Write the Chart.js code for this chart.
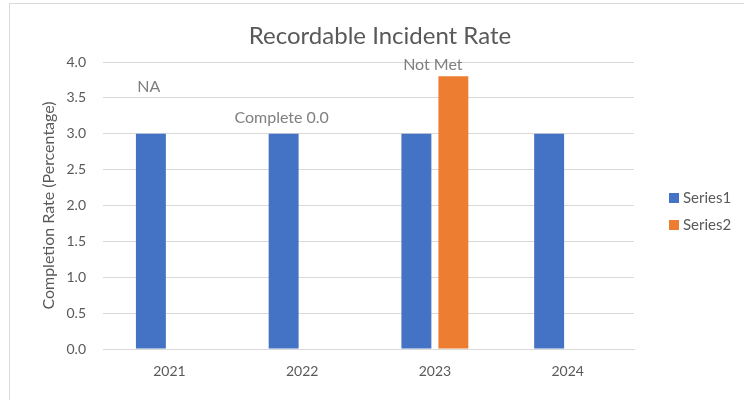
<!DOCTYPE html>
<html>
<head>
<meta charset="utf-8">
<script src="https://cdn.jsdelivr.net/npm/chart.js@4"></script>
<style>
    html, body { margin: 0; padding: 0; background: #fff; }
    #wrap { position: relative; width: 744px; height: 400px; overflow: hidden; }
    #frame { position: absolute; left: 9px; top: 3px; width: 760px; height: 420px; border: 1px solid #d9d9d9; box-sizing: border-box; }
    canvas { position: absolute; left: 0; top: 0; }
</style>
</head>
<body>
<div id="wrap">
    <div id="frame"></div>
    <canvas id="barChart" width="744" height="400"></canvas>
</div>
<script>
// ===============================
// Data
// ===============================
const years = ['2021', '2022', '2023', '2024'];
const series1 = [3, 3, 3, 3];
const series2 = [0, 0, 3.8, 0];
const seriesNames = ['Series1', 'Series2'];
const noteText = ['NA', 'Complete 0.0', 'Not Met', ''];
const noteValue = [3.65, 3.22, 3.96, null];
const chartTitle = 'Recordable Incident Rate';

const FONT = 'Lato, "Open Sans", sans-serif';
const TEXT = '#595959';
const COLORS = ['#4472C4', '#ED7D31'];

// ===============================
// Plugins
// ===============================
// title centred on the whole chart box, not only the plot
const boxTitle = {
    id: 'boxTitle',
    afterDraw(chart) {
        const ctx = chart.ctx;
        ctx.save();
        ctx.font = '24px ' + FONT;
        ctx.fillStyle = TEXT;
        ctx.textAlign = 'center';
        ctx.textBaseline = 'middle';
        ctx.fillText(chartTitle, 380, 36);
        ctx.restore();
    }
};

// text notes above the bars
const notesPlugin = {
    id: 'notes',
    afterDatasetsDraw(chart) {
        const ctx = chart.ctx;
        const x = chart.scales.x;
        const y = chart.scales.y;
        const meta0 = chart.getDatasetMeta(0);
        ctx.save();
        ctx.font = '16px ' + FONT;
        ctx.fillStyle = '#7f7f7f';
        ctx.textAlign = 'center';
        ctx.textBaseline = 'middle';
        noteText.forEach((t, i) => {
            if (!t || noteValue[i] == null) return;
            const px = series2[i] > 0 ? x.getPixelForValue(i) - 2 : meta0.data[i].x - 2;
            ctx.fillText(t, px, y.getPixelForValue(noteValue[i]));
        });
        ctx.restore();
    }
};

// legend on the right, Excel style
const sideLegend = {
    id: 'sideLegend',
    afterDraw(chart) {
        const ctx = chart.ctx;
        const area = chart.chartArea;
        const mid = (area.top + area.bottom) / 2;
        ctx.save();
        ctx.font = '15px ' + FONT;
        ctx.textBaseline = 'middle';
        seriesNames.forEach((name, i) => {
            const cy = mid + 6 + (i - 0.5) * 27;
            ctx.fillStyle = COLORS[i];
            ctx.fillRect(669, cy - 5, 10, 10);
            ctx.fillStyle = TEXT;
            ctx.fillText(name, 683, cy);
        });
        ctx.restore();
    }
};

// ===============================
// Chart
// ===============================
function initChart() {
    const canvas = document.getElementById('barChart');
    new Chart(canvas.getContext('2d'), {
        type: 'bar',
        data: {
            labels: years,
            datasets: [
                { label: seriesNames[0], data: series1, backgroundColor: COLORS[0] },
                { label: seriesNames[1], data: series2, backgroundColor: COLORS[1] }
            ]
        },
        options: {
            responsive: false,
            animation: false,
            categoryPercentage: 0.557,
            barPercentage: 0.81,
            layout: { padding: { left: 9, right: 110, top: 62, bottom: 0 } },
            plugins: {
                legend: { display: false },
                tooltip: { enabled: false },
                title: { display: false }
            },
            scales: {
                x: {
                    grid: { display: false, drawTicks: false },
                    border: { color: '#d9d9d9' },
                    ticks: { color: TEXT, font: { family: FONT, size: 14 }, padding: 14 },
                    afterFit(scale) { scale.height = 51; }
                },
                y: {
                    min: 0,
                    max: 4,
                    grid: { color: '#d9d9d9', drawTicks: false },
                    border: { display: false },
                    ticks: {
                        stepSize: 0.5,
                        color: TEXT,
                        font: { family: FONT, size: 14 },
                        padding: 17,
                        callback: v => v.toFixed(1)
                    },
                    title: {
                        display: true,
                        text: 'Completion Rate (Percentage)',
                        color: TEXT,
                        font: { family: FONT, size: 16 },
                        padding: { top: 30, bottom: 0 }
                    },
                    afterFit(scale) { scale.width = 94; }
                }
            }
        },
        plugins: [boxTitle, notesPlugin, sideLegend]
    });
}

document.addEventListener('DOMContentLoaded', () => {
    initChart();
});
</script>
</body>
</html>
